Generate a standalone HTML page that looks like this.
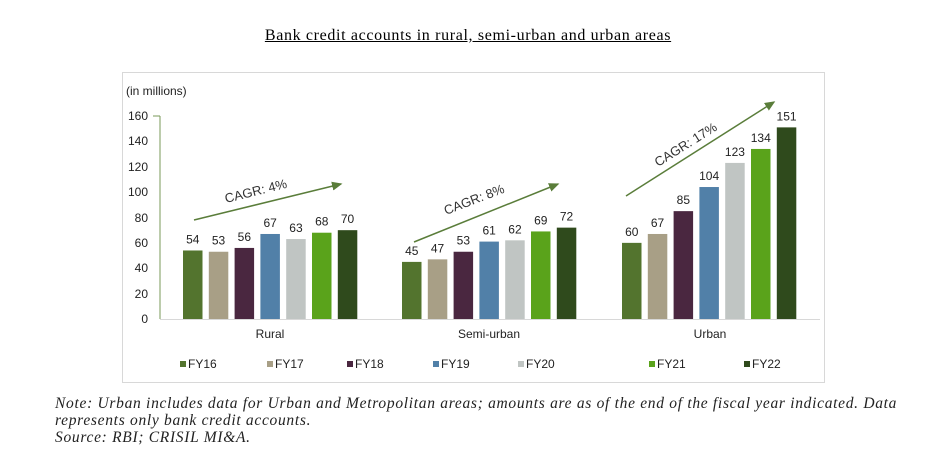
<!DOCTYPE html>
<html><head><style>
body{margin:0;background:#fff;width:936px;height:455px;overflow:hidden;position:relative}
.t{position:absolute;left:0;width:936px;text-align:center;top:27px;font:16px "Liberation Serif",serif;letter-spacing:0.65px;text-decoration:underline}
.note{position:absolute;left:55px;top:395px;font:italic 15.5px/17px "Liberation Serif",serif;letter-spacing:0.7px;color:#222;white-space:nowrap}
</style></head><body>
<div class="t">Bank credit accounts in rural, semi-urban and urban areas</div>
<svg style="position:absolute;left:0;top:0" width="936" height="455" font-family="Liberation Sans, sans-serif">
<defs><marker id="a" markerWidth="8" markerHeight="8" refX="6" refY="3" orient="auto"><path d="M0,0 L7,3 L0,6 z" fill="#5a7d3a"/></marker></defs>
<rect x="122.5" y="72.5" width="702" height="310" fill="#fff" stroke="#d8d8d8"/>
<text x="126" y="95" font-size="12" fill="#222">(in millions)</text>
<g font-size="12" fill="#222" text-anchor="end">
<text x="148" y="323">0</text><text x="148" y="298">20</text><text x="148" y="272">40</text><text x="148" y="247">60</text><text x="148" y="222">80</text><text x="148" y="196">100</text><text x="148" y="171">120</text><text x="148" y="145">140</text><text x="148" y="120">160</text>
</g>
<line x1="160" y1="116" x2="160" y2="319" stroke="#7a9a5a"/>
<line x1="153" y1="116" x2="160" y2="116" stroke="#7a9a5a"/>
<line x1="160" y1="319.5" x2="820" y2="319.5" stroke="#d8d8d8"/>
<g id="bars"></g>
<g font-size="12" fill="#222" text-anchor="middle">
<text x="270" y="338">Rural</text><text x="489" y="338">Semi-urban</text><text x="710" y="338">Urban</text>
</g>
<line x1="194" y1="220" x2="341" y2="184" stroke="#5a7d3a" stroke-width="1.5" marker-end="url(#a)"/>
<line x1="414" y1="242" x2="558" y2="184" stroke="#5a7d3a" stroke-width="1.5" marker-end="url(#a)"/>
<line x1="626" y1="196" x2="774" y2="102" stroke="#5a7d3a" stroke-width="1.5" marker-end="url(#a)"/>
<text font-size="13" fill="#333" transform="translate(226,203) rotate(-14)">CAGR: 4%</text>
<text font-size="13" fill="#333" transform="translate(446,215) rotate(-21)">CAGR: 8%</text>
<text font-size="13" fill="#333" transform="translate(658,167) rotate(-32)">CAGR: 17%</text>
<g id="leg" font-size="12" fill="#222"></g>
</svg>
<div class="note">Note: Urban includes data for Urban and Metropolitan areas; amounts are as of the end of the fiscal year indicated. Data<br>represents only bank credit accounts.<br>Source: RBI; CRISIL MI&amp;A.</div>
<script>
var c=["#53742e","#a89f86","#4a2740","#5180a8","#c0c5c3","#5aa31b","#2f4a1c"];
var d=[[54,53,56,67,63,68,70],[45,47,53,61,62,69,72],[60,67,85,104,123,134,151]];
var s=[183,402,622],ns="http://www.w3.org/2000/svg",g=document.getElementById("bars");
d.forEach(function(r,gi){r.forEach(function(v,i){var x=s[gi]+i*25.8,h=v*1.269,y=319-h;
var e=document.createElementNS(ns,"rect");e.setAttribute("x",x);e.setAttribute("y",y);e.setAttribute("width",19.5);e.setAttribute("height",h);e.setAttribute("fill",c[i]);g.appendChild(e);
var t=document.createElementNS(ns,"text");t.setAttribute("x",x+9.75);t.setAttribute("y",y-7);t.setAttribute("font-size","12");t.setAttribute("fill","#222");t.setAttribute("text-anchor","middle");t.textContent=v;g.appendChild(t);});});
var L=document.getElementById("leg"),lx=[180,267,347,433,518,649,744];
lx.forEach(function(x,i){var e=document.createElementNS(ns,"rect");e.setAttribute("x",x);e.setAttribute("y",361);e.setAttribute("width",6);e.setAttribute("height",6);e.setAttribute("fill",c[i]);L.appendChild(e);
var t=document.createElementNS(ns,"text");t.setAttribute("x",x+8);t.setAttribute("y",368);t.textContent="FY"+(16+i);L.appendChild(t);});
</script>
</body></html>
